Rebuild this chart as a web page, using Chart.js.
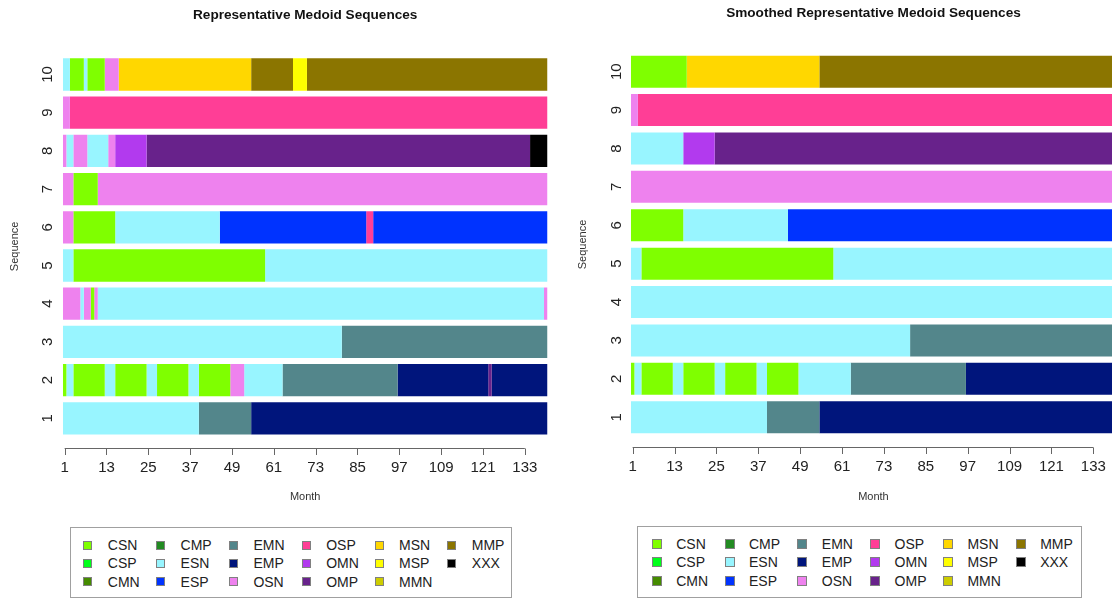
<!DOCTYPE html>
<html><head><meta charset="utf-8">
<script src="https://cdn.jsdelivr.net/npm/chart.js@4.4.0/dist/chart.umd.min.js"></script>
<style>
html,body{margin:0;padding:0;background:#fff;overflow:hidden;width:1112px;height:599px;}
#wrap{position:relative;width:1112px;height:599px;overflow:hidden;}
.cv{position:absolute;top:0;}
.legend{position:absolute;border:1px solid #a0a0a0;box-sizing:border-box;font-family:"Liberation Sans",Arial,sans-serif;font-size:14px;color:#222;}
.item{position:absolute;line-height:16px;white-space:nowrap;}
.sw{position:absolute;border:1px solid #808080;box-sizing:border-box;}
</style></head><body>
<div id="wrap">
  <div class="cv" style="left:0;width:572px;height:520px"><canvas id="c1" width="572" height="520"></canvas></div>
  <div class="cv" style="left:572px;width:608px;height:520px"><canvas id="c2" width="608" height="520"></canvas></div>
  <div id="lg1" class="legend" style="left:70px;top:527px;width:442px;height:71px"></div>
  <div id="lg2" class="legend" style="left:637px;top:526px;width:445px;height:72px"></div>
</div>
<script>
// ---------- data ----------
const totalMonths = 139;
const sequenceLabels = ['1','2','3','4','5','6','7','8','9','10'];
const tickMonths = [1,13,25,37,49,61,73,85,97,109,121,133];
const states = ['CSN','CSP','CMN','CMP','ESN','ESP','EMN','EMP','OSN','OSP','OMN','OMP','MSN','MSP','MMN','MMP','XXX'];
const stateColors = ['#7FFF00','#00FF1A','#458B00','#228B22','#98F5FF','#0033FF','#53868B','#00157C','#EE82EE','#FF3E96','#B23AEE','#68228B','#FFD700','#FFFF00','#CDCD00','#8B7500','#000000'];

// Representative medoid sequences: [state, duration in months]
const medoid1  = [['ESN',39],['EMN',15],['EMP',85]];
const medoid2  = [['CSN',1],['ESN',2],['CSN',9],['ESN',3],['CSN',9],['ESN',3],['CSN',9],['ESN',3],['CSN',9],['OSN',4],['ESN',11],['EMN',33],['EMP',26],['OMP',1],['EMP',16]];
const medoid3  = [['ESN',80],['EMN',59]];
const medoid4  = [['OSN',5],['ESN',1],['OSN',2],['CSN',1],['OSN',1],['ESN',128],['OSN',1]];
const medoid5  = [['ESN',3],['CSN',55],['ESN',81]];
const medoid6  = [['OSN',3],['CSN',12],['ESN',30],['ESP',42],['OSP',2],['ESP',50]];
const medoid7  = [['OSN',3],['CSN',7],['OSN',129]];
const medoid8  = [['OSN',1],['ESN',2],['OSN',4],['ESN',6],['OSN',2],['OMN',9],['OMP',110],['XXX',5]];
const medoid9  = [['OSN',2],['OSP',137]];
const medoid10 = [['ESN',2],['CSN',4],['ESN',1],['CSN',5],['OSN',4],['MSN',38],['MMP',12],['MSP',4],['MMP',69]];

// Smoothed representative medoid sequences
const smooth1  = [['ESN',39],['EMN',15],['EMP',85]];
const smooth2  = [['CSN',1],['ESN',2],['CSN',9],['ESN',3],['CSN',9],['ESN',3],['CSN',9],['ESN',3],['CSN',9],['ESN',15],['EMN',33],['EMP',43]];
const smooth3  = [['ESN',80],['EMN',59]];
const smooth4  = [['ESN',139]];
const smooth5  = [['ESN',3],['CSN',55],['ESN',81]];
const smooth6  = [['CSN',15],['ESN',30],['ESP',94]];
const smooth7  = [['OSN',139]];
const smooth8  = [['ESN',15],['OMN',9],['OMP',115]];
const smooth9  = [['OSN',2],['OSP',137]];
const smooth10 = [['CSN',16],['MSN',38],['MMP',85]];

const medoidSeqs = [medoid1,medoid2,medoid3,medoid4,medoid5,medoid6,medoid7,medoid8,medoid9,medoid10];
const smoothSeqs = [smooth1,smooth2,smooth3,smooth4,smooth5,smooth6,smooth7,smooth8,smooth9,smooth10];

// ---------- rendering ----------
const FONT = '"Liberation Sans", Arial, Helvetica, sans-serif';
Chart.defaults.font.family = FONT;
const colorOf = s => stateColors[states.indexOf(s)];

function buildDatasets(seqs, barPct){
  const maxRuns = Math.max(...seqs.map(s => s.length));
  const ds = [];
  for (let j = 0; j < maxRuns; j++){
    ds.push({
      data: seqs.map(s => s[j] ? s[j][1] : null),
      backgroundColor: seqs.map(s => s[j] ? colorOf(s[j][0]) : 'rgba(0,0,0,0)'),
      borderWidth: 0,
      barPercentage: barPct,
      categoryPercentage: 1,
      stack: 'seq'
    });
  }
  return ds;
}

const rDeco = {
  id: 'rDeco',
  afterDraw(chart, args, o){
    const ctx = chart.ctx, ca = chart.chartArea;
    const xs = chart.scales.x, ys = chart.scales.y;
    ctx.save();
    // title
    ctx.fillStyle = '#111';
    ctx.font = 'bold 13.6px ' + FONT;
    ctx.textAlign = 'center'; ctx.textBaseline = 'middle';
    ctx.fillText(o.title, (ca.left + ca.right) / 2, o.titleY);
    // y labels (rotated, R style)
    ctx.font = '15px ' + FONT;
    ctx.fillStyle = '#222';
    sequenceLabels.forEach((lab, i) => {
      const y = ys.getPixelForValue(i);
      ctx.save();
      ctx.translate(o.ylabX, y);
      ctx.rotate(-Math.PI / 2);
      ctx.fillText(lab, 0, 0);
      ctx.restore();
    });
    // x axis line + ticks
    const ay = Math.round(ca.bottom + o.axisGap) + 0.5;
    const x0 = xs.getPixelForValue(tickMonths[0] - 0.5);
    const x1 = xs.getPixelForValue(tickMonths[tickMonths.length - 1] - 0.5);
    ctx.strokeStyle = '#666'; ctx.lineWidth = 1;
    ctx.beginPath();
    ctx.moveTo(x0, ay); ctx.lineTo(x1, ay);
    tickMonths.forEach(m => {
      const x = Math.round(xs.getPixelForValue(m - 0.5)) + 0.5;
      ctx.moveTo(x, ay); ctx.lineTo(x, ay + 6.5);
    });
    ctx.stroke();
    ctx.restore();
  }
};

function makeChart(id, seqs, cfg){
  return new Chart(document.getElementById(id), {
    type: 'bar',
    data: { labels: sequenceLabels, datasets: buildDatasets(seqs, cfg.barPct) },
    options: {
      indexAxis: 'y',
      responsive: false,
      animation: false,
      devicePixelRatio: 1,
      layout: { padding: { left: 0, top: cfg.top, right: cfg.right, bottom: 0 } },
      plugins: { legend: { display: false }, tooltip: { enabled: false }, title: { display: false },
        rDeco: { title: cfg.title, titleY: cfg.titleY, ylabX: cfg.ylabX, axisGap: cfg.axisGap } },
      scales: {
        x: {
          type: 'linear', stacked: true, min: 0, max: totalMonths,
          afterBuildTicks: s => { s.ticks = tickMonths.map(m => ({ value: m - 0.5 })); },
          afterFit: s => { s.height = cfg.xHeight; },
          ticks: { callback: v => String(Math.round(v + 0.5)), font: { size: 15 }, color: '#222',
                   padding: cfg.tickPad, maxRotation: 0, minRotation: 0, autoSkip: false },
          grid: { display: false, drawTicks: false }, border: { display: false },
          title: { display: true, text: 'Month', font: { size: 11 }, color: '#333', padding: { top: 0, bottom: cfg.monthPad } }
        },
        y: {
          type: 'category', stacked: true, reverse: true,
          afterFit: s => { s.width = cfg.yWidth; },
          ticks: { display: false },
          grid: { display: false, drawTicks: false }, border: { display: false },
          title: { display: true, text: 'Sequence', font: { size: 11 }, color: '#333', padding: { top: cfg.seqPad, bottom: 0 } }
        }
      }
    },
    plugins: [rDeco]
  });
}

makeChart('c1', medoidSeqs, {
  title: 'Representative Medoid Sequences', titleY: 15, ylabX: 48.3,
  top: 55.4, right: 24.5, yWidth: 62.9, xHeight: 82.6, barPct: 0.846,
  tickPad: 21.5, monthPad: 16.4, seqPad: 8.4, axisGap: 11
});
makeChart('c2', smoothSeqs, {
  title: 'Smoothed Representative Medoid Sequences', titleY: 13, ylabX: 44.7,
  top: 52.5, right: 64, yWidth: 58.9, xHeight: 83.6, barPct: 0.834,
  tickPad: 21.5, monthPad: 16.4, seqPad: 4.7, axisGap: 11
});

// ---------- legends (3 rows, column-major, like R) ----------
function buildLegend(id, swLeft, rowTop, sw){
  const el = document.getElementById(id);
  const colPitch = 72.8, rowPitch = 18.3;
  states.forEach((s, k) => {
    const c = Math.floor(k / 3), r = k % 3;
    const cy = rowTop + r * rowPitch;
    const box = document.createElement('div');
    box.className = 'sw';
    box.style.cssText = `left:${swLeft + c*colPitch}px;top:${cy - sw/2}px;width:${sw}px;height:${sw}px;background:${colorOf(s)}`;
    el.appendChild(box);
    const t = document.createElement('div');
    t.className = 'item';
    t.textContent = s;
    t.style.cssText = `left:${swLeft + c*colPitch + 24.5}px;top:${cy - 8}px`;
    el.appendChild(t);
  });
}
// positions relative to legend boxes
buildLegend('lg1', 83.3 - 71, 545 - 528, 9);
buildLegend('lg2', 651.7 - 638, 544 - 527, 10);
</script>
</body></html>
